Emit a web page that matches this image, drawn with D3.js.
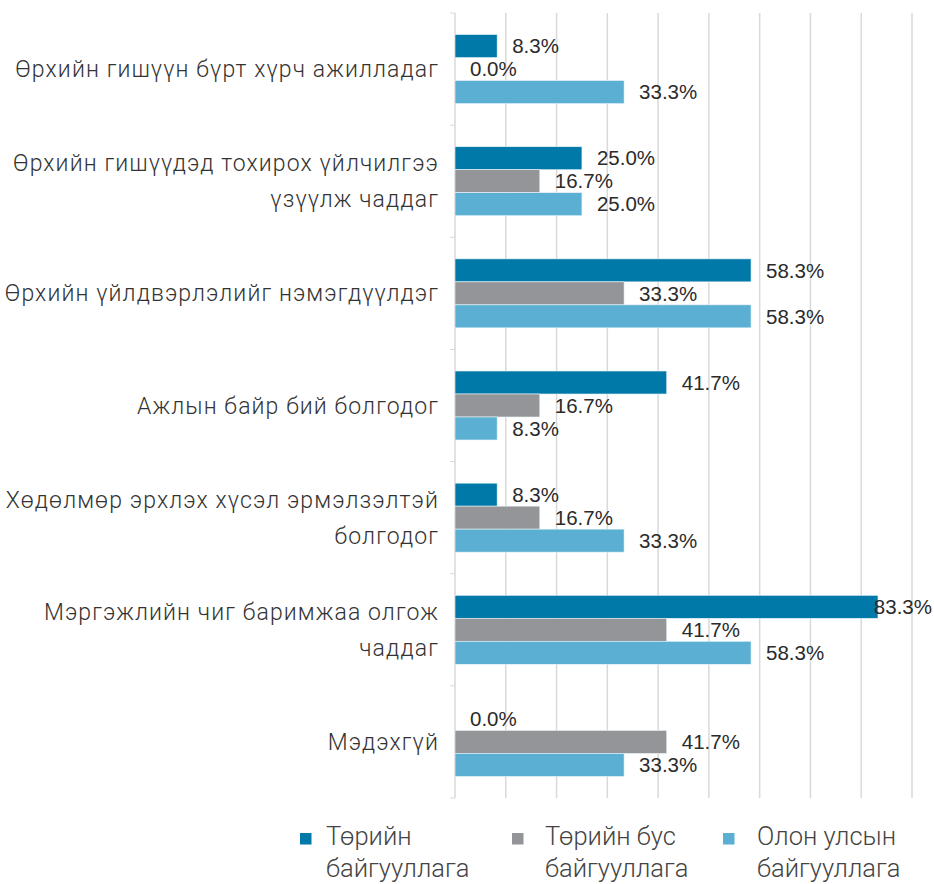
<!DOCTYPE html>
<html>
<head>
<meta charset="utf-8">
<script src="https://cdn.jsdelivr.net/npm/d3@7"></script>
<style>
  body { margin: 0; background: #fff; }
  svg { display: block; }
</style>
</head>
<body>
<div id="chart"></div>
<script>
// categories (each entry = lines of the label)
const categories = [
    ["Өрхийн гишүүн бүрт хүрч ажилладаг"],
    ["Өрхийн гишүүдэд тохирох үйлчилгээ", "үзүүлж чаддаг"],
    ["Өрхийн үйлдвэрлэлийг нэмэгдүүлдэг"],
    ["Ажлын байр бий болгодог"],
    ["Хөдөлмөр эрхлэх хүсэл эрмэлзэлтэй", "болгодог"],
    ["Мэргэжлийн чиг баримжаа олгож", "чаддаг"],
    ["Мэдэхгүй"]
];
const seriesNames = [
    ["Төрийн", "байгууллага"],
    ["Төрийн бус", "байгууллага"],
    ["Олон улсын", "байгууллага"]
];
const govValues = [8.3, 25.0, 58.3, 41.7, 8.3, 83.3, 0.0];
const ngoValues = [0.0, 16.7, 33.3, 16.7, 16.7, 41.7, 41.7];
const intlValues = [33.3, 25.0, 58.3, 8.3, 33.3, 58.3, 33.3];
const xTicks = [0, 10, 20, 30, 40, 50, 60, 70, 80, 90];

const colors = ["#0079a8", "#939598", "#5bafd3"];
const allSeries = [govValues, ngoValues, intlValues];

const W = 934, H = 884;
const margin = {top: 13, left: 455, right: 22, bottom: 86};

const svg = d3.select("#chart").append("svg")
    .attr("width", W)
    .attr("height", H);

const x = d3.scaleLinear()
    .domain([0, 90])
    .range([margin.left, W - margin.right]);

const y = d3.scaleBand()
    .domain(d3.range(categories.length))
    .range([margin.top, H - margin.bottom])
    .paddingInner(0.385)
    .paddingOuter(0.1925);

const yInner = d3.scaleBand()
    .domain([0, 1, 2])
    .range([0, y.bandwidth()]);

// gridlines
svg.append("g").selectAll("line")
    .data(xTicks)
    .join("line")
        .attr("x1", d => x(d))
        .attr("x2", d => x(d))
        .attr("y1", margin.top)
        .attr("y2", H - margin.bottom)
        .attr("stroke", "#d9d9d9")
        .attr("stroke-width", 1.5);

// bars
let groups = svg.append("g").selectAll("g")
    .data(categories)
    .join("g")
        .attr("transform", (d, i) => "translate(0," + y(i) + ")");

groups.each(function(cat, ci) {
    let g = d3.select(this);
    allSeries.forEach((vals, si) => {
        let v = vals[ci];
        g.append("rect")
            .attr("x", x(0))
            .attr("y", yInner(si))
            .attr("width", x(v) - x(0))
            .attr("height", yInner.bandwidth())
            .attr("fill", colors[si])
            .attr("stroke", v > 0 ? "#e8f4f8" : "none")
            .attr("stroke-width", 0.6);

        let label = g.append("text")
            .attr("x", x(v) + 15)
            .attr("y", yInner(si) + yInner.bandwidth() / 2)
            .attr("dy", "0.35em")
            .attr("font-family", "Liberation Sans, Arial, sans-serif")
            .attr("font-size", 20.5)
            .attr("fill", "#2b2b2b")
            .text(v.toFixed(1) + "%");
        let w = label.node().getComputedTextLength();
        if (x(v) + 15 + w > W - 2) {
            label.attr("x", W - 2 - w);
        }
    });

    // category label
    let lineH = 36;
    let lines = cat;
    let yc = y.bandwidth() / 2;
    g.append("text")
        .attr("text-anchor", "end")
        .attr("font-family", "Roboto, sans-serif")
        .attr("font-weight", 300)
        .attr("font-size", 23)
        .attr("letter-spacing", 1.1)
        .attr("fill", "#333")
        .selectAll("tspan")
        .data(lines)
        .join("tspan")
            .attr("x", 439)
            .attr("y", (d, i) => yc + (i - (lines.length - 1) / 2) * lineH)
            .attr("dy", "0.35em")
            .text(d => d);
});

// small axis ticks on the left
svg.append("g").selectAll("line")
    .data(d3.range(categories.length + 1))
    .join("line")
        .attr("x1", x(0) - 5)
        .attr("x2", x(0))
        .attr("y1", i => y.step() * i + margin.top)
        .attr("y2", i => y.step() * i + margin.top)
        .attr("stroke", "#d9d9d9")
        .attr("stroke-width", 1);

// legend
const legendX = [300, 512, 723];
const legendTextX = [26, 33, 34];
let legend = svg.append("g").selectAll("g")
    .data(seriesNames)
    .join("g")
        .attr("transform", (d, i) => "translate(" + legendX[i] + ",845)");

legend.append("rect")
    .attr("x", 0)
    .attr("y", -12)
    .attr("width", 11.5)
    .attr("height", 11.5)
    .attr("fill", (d, i) => colors[i]);

legend.append("text")
    .attr("font-family", "Roboto, sans-serif")
    .attr("font-weight", 300)
    .attr("font-size", 25.5)
    .attr("letter-spacing", 0)
    .attr("fill", "#444")
    .selectAll("tspan")
    .data((d, i) => d.map(t => ({t: t, i: i})))
    .join("tspan")
        .attr("x", d => legendTextX[d.i])
        .attr("y", (d, j) => j * 32)
        .text(d => d.t);
</script>
</body>
</html>
